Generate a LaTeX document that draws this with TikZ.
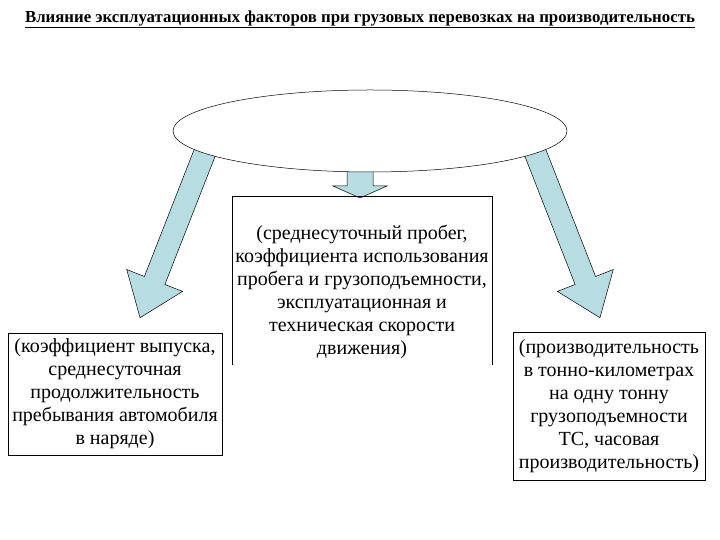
\documentclass[tikz,border=0pt]{standalone}
\usepackage{fontspec}
\setmainfont{Liberation Serif}
\usetikzlibrary{shapes.geometric}
\begin{document}
\begin{tikzpicture}[x=1pt,y=1pt,
  blk/.style={fill={rgb,255:red,183;green,221;blue,227},draw=black,line width=0.5pt},
  txt/.style={align=center,font=\fontsize{20}{23}\selectfont,inner sep=1pt}]
\useasboundingbox (0,0) rectangle (720,540);
% block arrows
\begin{scope}[shift={(205,388)},rotate=248.6]
\draw[blk] (0,-11)--(138,-11)--(138,-30)--(178,0)--(138,30)--(138,11)--(0,11)--cycle;
\end{scope}
\begin{scope}[shift={(535,388)},rotate=291.4]
\draw[blk] (0,-11)--(138,-11)--(138,-30)--(178,0)--(138,30)--(138,11)--(0,11)--cycle;
\end{scope}
\begin{scope}[shift={(360,370)},rotate=270]
\draw[blk] (0,-13)--(16,-13)--(16,-27)--(28,0)--(16,27)--(16,13)--(0,13)--cycle;
\end{scope}
\node[ellipse,draw,fill=white,minimum width=394,minimum height=82,line width=0.5pt] (ell) at (370,409) {};
\node[font=\fontsize{16.8}{18}\selectfont\bfseries] (title) at (360,521) {\underline{Влияние эксплуатационных факторов при грузовых перевозках на производительность}};
\draw[line width=0.5pt] (232,175)--(232,344)--(492,344)--(492,175);
\node[txt] (mid) at (362,248) {(среднесуточный пробег,\\коэффициента использования\\пробега и грузоподъемности,\\эксплуатационная и\\техническая скорости\\движения)};
\node[txt,draw,line width=0.5pt,minimum width=214,minimum height=122] (left) at (115,146) {(коэффициент выпуска,\\среднесуточная\\продолжительность\\пребывания автомобиля\\в наряде)};
\node[txt,draw,line width=0.5pt,minimum width=192,minimum height=148] (right) at (609,134) {(производительность\\в тонно-километрах\\на одну тонну\\грузоподъемности\\ТС, часовая\\производительность)};
\end{tikzpicture}
\end{document}
